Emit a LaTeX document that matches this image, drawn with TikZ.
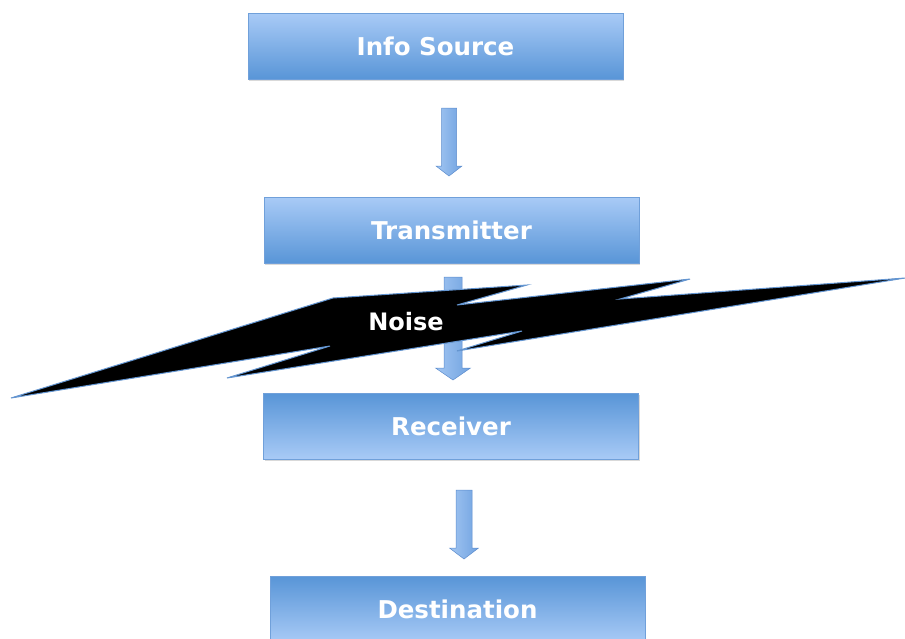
\documentclass[tikz,border=0pt]{standalone}
\usepackage{fontspec}
\setmainfont{DejaVu Sans}
\usetikzlibrary{shadows}

\definecolor{boxlight}{RGB}{168,202,246}
\definecolor{boxdark}{RGB}{88,149,215}
\definecolor{boxedge}{RGB}{112,160,218}
\definecolor{arrowlight}{RGB}{162,198,242}
\definecolor{arrowdark}{RGB}{112,162,224}
\definecolor{arrowedge}{RGB}{92,140,205}
\definecolor{boltedge}{RGB}{100,150,210}

% downward block arrow: centre x, top y, head start y, tip y, half shaft, half head
\newcommand{\downblock}[6]{%
  \draw[blockarrow] (#1-#5,#2) -- (#1+#5,#2) -- (#1+#5,#3) -- (#1+#6,#3)
    -- (#1,#4) -- (#1-#6,#3) -- (#1-#5,#3) -- cycle;}

\begin{document}
\begin{tikzpicture}[x=1pt,y=-1pt,
  stage/.style={draw=boxedge, line width=0.6pt, minimum width=375pt,
    minimum height=66pt, text=white,
    font=\bfseries\fontsize{24.5}{28}\selectfont,
    drop shadow={opacity=0.3, shadow xshift=1pt, shadow yshift=-1.5pt}},
  lightup/.style={top color=boxlight, bottom color=boxdark},
  lightdown/.style={top color=boxdark, bottom color=boxlight},
  blockarrow/.style={draw=arrowedge, line width=0.5pt,
    left color=arrowlight, right color=arrowdark, line join=miter},
  bolt/.style={fill=black, draw=boltedge, line width=1pt, line join=miter}]

\useasboundingbox (0,0) rectangle (905,638);

% the four stages
\node[stage, lightup]   (source) at (435.5,46.5) {Info Source};
\node[stage, lightup]   (tx)     at (451.5,230.5) {Transmitter};
\node[stage, lightdown] (rx)     at (451,426) {Receiver};
\node[stage, lightdown] (dest)   at (457.5,609) {Destination};

% block arrows between the stages
\downblock{449}{108}{166}{176}{7.5}{13}
\downblock{453}{277}{368}{380}{9}{17.5}
\downblock{464}{490}{548}{559}{8}{14.5}

% noise bolt across the channel
\draw[bolt] (11,398) -- (333,298) -- (527,285) -- (457,305) -- (690,279)
  -- (620,299) -- (905,278) -- (457,351) -- (522,331) -- (227,378)
  -- (330,346) -- cycle;
\node[text=white, font=\bfseries\fontsize{24}{28}\selectfont] (noise) at (406,322) {Noise};
\end{tikzpicture}
\end{document}
